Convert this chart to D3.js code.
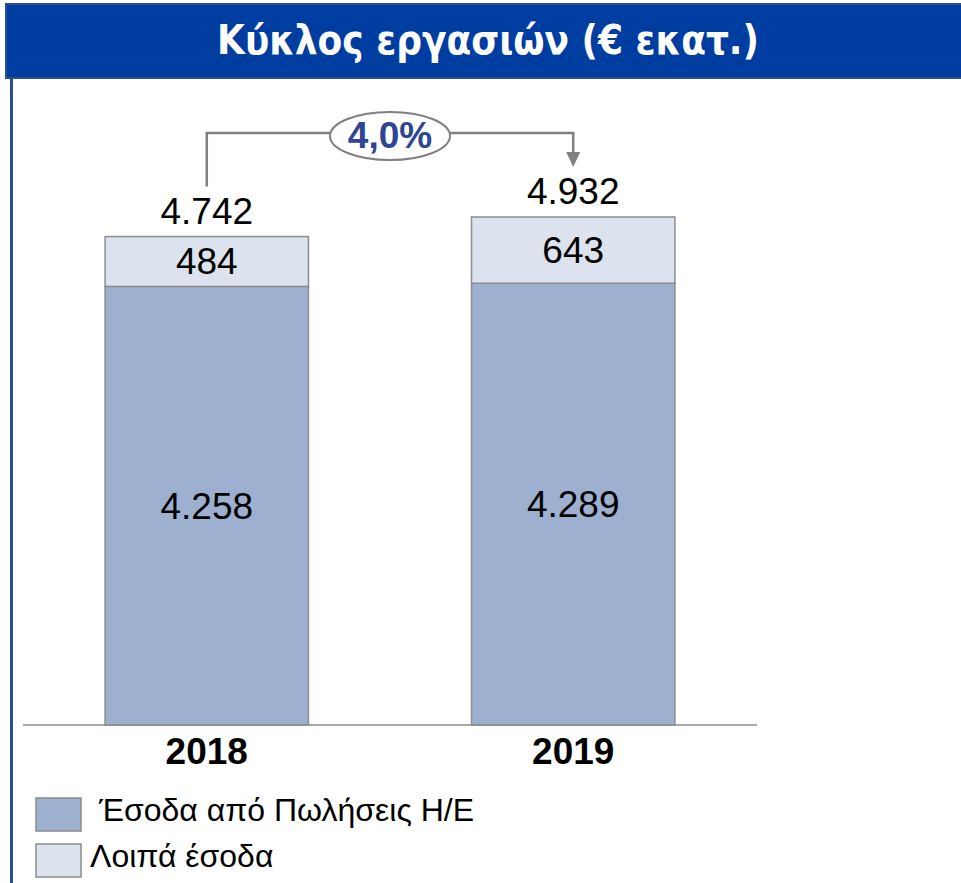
<!DOCTYPE html>
<html>
<head>
<meta charset="utf-8">
<script src="https://cdn.jsdelivr.net/npm/d3@7"></script>
<style>
  body { margin: 0; background: #fff; }
  svg { display: block; font-family: "Liberation Sans", Arial, sans-serif; }
</style>
</head>
<body>
<div id="chart"></div>
<script>
// Data
const years = ['2018', '2019']
const salesRevenue = [4258, 4289]
const otherRevenue = [484, 643]
const totals = [4742, 4932]
const growthLabel = '4,0%'
const seriesNames = ['\u00A0Έσοδα από Πωλήσεις Η/Ε', 'Λοιπά έσοδα']
const seriesColors = ['#9DB0CF', '#DCE3EE']

const width = 961
const height = 883
const fmt = d3.formatLocale({ decimal: ',', thousands: '.', grouping: [3], currency: ['€', ''] }).format(',')

const svg = d3.select('#chart')
  .append('svg')
  .attr('width', width)
  .attr('height', height)

// Title banner
svg.append('rect')
  .attr('x', 6).attr('y', 4)
  .attr('width', width).attr('height', 74)
  .attr('fill', '#003DA0')
  .attr('stroke', '#2A4F8C')
  .attr('stroke-width', 2)

svg.append('text')
  .text('Κύκλος εργασιών (€ εκατ.)')
  .attr('x', 488).attr('y', 54)
  .attr('text-anchor', 'middle')
  .attr('fill', '#fff')
  .attr('font-family', '"Liberation Sans Narrow", "DejaVu Sans Condensed", sans-serif')
  .attr('font-weight', 'bold')
  .attr('font-size', 40)

// left frame line
svg.append('line')
  .attr('x1', 11.5).attr('x2', 11.5)
  .attr('y1', 78).attr('y2', height)
  .attr('stroke', '#2A4F8C')
  .attr('stroke-width', 3)

// Scales
const x = d3.scaleBand()
  .domain(years)
  .range([23, 757])
  .paddingInner(0.445)
  .paddingOuter(0.224)

const y = d3.scaleLinear()
  .domain([0, 5000])
  .range([725, 210])

const stackData = years.map((yr, i) => ({ year: yr, sales: salesRevenue[i], other: otherRevenue[i] }))
const stack = d3.stack().keys(['sales', 'other'])(stackData)

const layers = svg.append('g')
  .selectAll('g')
  .data(stack)
  .enter().append('g')
  .attr('fill', (d, i) => seriesColors[i])

layers.selectAll('rect')
  .data(d => d)
  .enter().append('rect')
  .attr('x', d => x(d.data.year))
  .attr('width', x.bandwidth())
  .attr('y', d => y(d[1]))
  .attr('height', d => y(d[0]) - y(d[1]))
  .attr('stroke', '#8C8C8C')
  .attr('stroke-width', 1.5)

// segment labels
layers.selectAll('text')
  .data(d => d)
  .enter().append('text')
  .text(d => fmt(d[1] - d[0]))
  .attr('x', d => x(d.data.year) + x.bandwidth() / 2)
  .attr('y', d => (y(d[0]) + y(d[1])) / 2)
  .attr('dy', '0.35em')
  .attr('text-anchor', 'middle')
  .attr('fill', '#000')
  .attr('font-size', 37)

// totals
svg.append('g')
  .selectAll('text')
  .data(totals)
  .enter().append('text')
  .text(d => fmt(d))
  .attr('x', (d, i) => x(years[i]) + x.bandwidth() / 2)
  .attr('y', d => y(d) - 26)
  .attr('dy', '0.35em')
  .attr('text-anchor', 'middle')
  .attr('font-size', 37)

// baseline axis
const axis = svg.append('g')
  .attr('transform', `translate(0, ${y(0)})`)
  .call(d3.axisBottom(x).tickSize(0).tickPadding(13))
axis.select('.domain')
  .attr('stroke', '#8C8C8C')
  .attr('stroke-width', 1.5)
  .attr('d', `M${x.range()[0]},0H${x.range()[1]}`)
axis.selectAll('.tick text')
  .attr('font-family', '"Liberation Sans", Arial, sans-serif')
  .attr('font-size', 37)
  .attr('font-weight', 'bold')
  .attr('fill', '#000')

// growth annotation
const cx0 = x(years[0]) + x.bandwidth() / 2
const cx1 = x(years[1]) + x.bandwidth() / 2
const topY = 133
svg.append('path')
  .attr('d', `M${cx0},${y(totals[0]) - 50}V${topY}H${cx1}V${y(totals[1]) - 62}`)
  .attr('fill', 'none')
  .attr('stroke', '#808080')
  .attr('stroke-width', 2.5)
svg.append('path')
  .attr('d', `M${cx1 - 7},${y(totals[1]) - 65}L${cx1 + 7},${y(totals[1]) - 65}L${cx1},${y(totals[1]) - 50}Z`)
  .attr('fill', '#808080')

const ex = (cx0 + cx1) / 2
svg.append('ellipse')
  .attr('cx', ex).attr('cy', topY + 3)
  .attr('rx', 60).attr('ry', 24)
  .attr('fill', '#fff')
  .attr('stroke', '#808080')
  .attr('stroke-width', 2)
svg.append('text')
  .text(growthLabel)
  .attr('x', ex).attr('y', topY + 2)
  .attr('dy', '0.35em')
  .attr('text-anchor', 'middle')
  .attr('font-size', 37)
  .attr('font-weight', 'bold')
  .attr('fill', '#2E4594')

// Legend
const legend = svg.append('g')
  .selectAll('g')
  .data(seriesNames)
  .enter().append('g')
  .attr('transform', (d, i) => `translate(36, ${798 + i * 46})`)
legend.append('rect')
  .attr('width', 45).attr('height', 33)
  .attr('fill', (d, i) => seriesColors[i])
  .attr('stroke', '#8C8C8C')
  .attr('stroke-width', 1.5)
legend.append('text')
  .text(d => d)
  .attr('x', 54).attr('y', 12)
  .attr('dy', '0.35em')
  .attr('font-size', 32)
</script>
</body>
</html>
